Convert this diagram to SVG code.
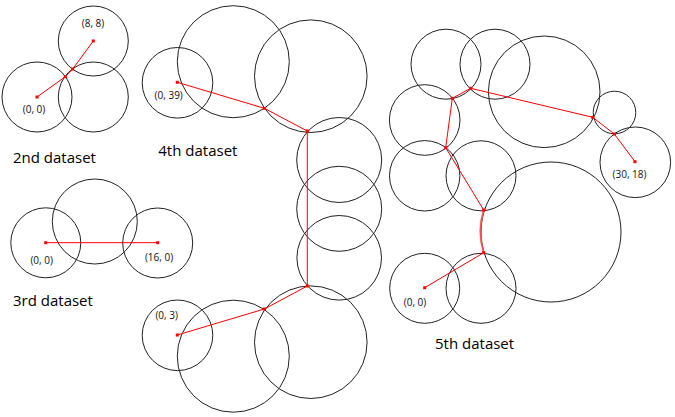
<svg xmlns="http://www.w3.org/2000/svg" width="675" height="417" viewBox="0 0 675 417">
<style>
.c{fill:none;stroke:#222;stroke-width:1}
.p{fill:none;stroke:#f00;stroke-width:1}
.d{fill:#f00}
.lbl{font-family:"Open Sans","Noto Sans",sans-serif;font-size:10px;fill:#111;text-anchor:middle}
.ttl{font-family:"Open Sans","Noto Sans",sans-serif;font-size:15px;fill:#000}
</style>
<rect width="675" height="417" fill="#fff"/>
<g id="dataset2">
<circle class="c" cx="37" cy="97" r="35"/>
<circle class="c" cx="93.3" cy="41" r="35"/>
<circle class="c" cx="93.3" cy="97" r="35"/>
<text class="lbl" x="93" y="26.5">(8, 8)</text>
<text class="lbl" x="34" y="113">(0, 0)</text>
<text class="ttl" x="13" y="162.5">2nd dataset</text>
</g>
<g id="dataset3">
<circle class="c" cx="45.8" cy="242.8" r="35"/>
<circle class="c" cx="94.8" cy="221.5" r="42.5"/>
<circle class="c" cx="157.7" cy="243" r="35"/>
<text class="lbl" x="41.7" y="264">(0, 0)</text>
<text class="lbl" x="159" y="260.5">(16, 0)</text>
<text class="ttl" x="13" y="306">3rd dataset</text>
</g>
<g id="dataset4">
<circle class="c" cx="177.5" cy="82.8" r="35.3"/>
<circle class="c" cx="233.3" cy="61.7" r="56"/>
<circle class="c" cx="310.8" cy="76.2" r="56.3"/>
<circle class="c" cx="339.2" cy="160" r="42.5"/>
<circle class="c" cx="339.2" cy="208.8" r="42.5"/>
<circle class="c" cx="339.2" cy="257.8" r="42.3"/>
<circle class="c" cx="310.8" cy="342.2" r="56.3"/>
<circle class="c" cx="233.3" cy="356.2" r="56"/>
<circle class="c" cx="177.5" cy="335.3" r="35.3"/>
<text class="lbl" x="168.7" y="98.5">(0, 39)</text>
<text class="lbl" x="166.7" y="318.5">(0, 3)</text>
<text class="ttl" x="158.3" y="155.5">4th dataset</text>
</g>
<g id="dataset5">
<circle class="c" cx="446" cy="64.2" r="35"/>
<circle class="c" cx="495" cy="64.2" r="35"/>
<circle class="c" cx="544.2" cy="91.8" r="55.8"/>
<circle class="c" cx="614.5" cy="112.5" r="21.3"/>
<circle class="c" cx="635.3" cy="162.3" r="35.3"/>
<circle class="c" cx="424.7" cy="120" r="35.3"/>
<circle class="c" cx="424.7" cy="175.8" r="35.2"/>
<circle class="c" cx="481" cy="175.8" r="35"/>
<circle class="c" cx="551" cy="232" r="70"/>
<circle class="c" cx="424.7" cy="288.3" r="35"/>
<circle class="c" cx="481" cy="288.3" r="35"/>
<text class="lbl" x="629.5" y="178">(30, 18)</text>
<text class="lbl" x="415" y="306">(0, 0)</text>
<text class="ttl" x="435" y="349">5th dataset</text>
</g>
<g id="connectors">
<polyline class="p" points="37,97 65.3,76.7 72.7,69 93.3,41"/>
<polyline class="p" points="45.7,242.7 157.7,242.7"/>
<polyline class="p" points="177.3,82.3 264.3,108.3 307.3,131 307.3,286 264.3,309 177.3,335"/>
<path class="p" d="M424.7,287.7 L483.7,252.7 A70,70 0 0 1 483.7,210 L445.7,147.7 L452.3,98.3 L470.7,88.3 L592.7,117.3 L614.3,134 L635,161.7"/>
<path d="M483.7,252.7 A70,70 0 0 1 483.7,210" fill="none" stroke="#f66" stroke-width="2" opacity="0.7"/>
<g class="d">
<rect x="35.5" y="95.5" width="3" height="3"/>
<rect x="63.8" y="75.2" width="3" height="3"/>
<rect x="71.2" y="67.5" width="3" height="3"/>
<rect x="91.8" y="39.5" width="3" height="3"/>
<rect x="44.2" y="241.2" width="3" height="3"/>
<rect x="156.2" y="241.2" width="3" height="3"/>
<rect x="175.8" y="80.8" width="3" height="3"/>
<rect x="262.8" y="106.8" width="3" height="3"/>
<rect x="305.8" y="129.5" width="3" height="3"/>
<rect x="305.8" y="284.5" width="3" height="3"/>
<rect x="262.8" y="307.5" width="3" height="3"/>
<rect x="175.8" y="333.5" width="3" height="3"/>
<rect x="423.2" y="286.2" width="3" height="3"/>
<rect x="482.2" y="251.2" width="3" height="3"/>
<rect x="482.2" y="208.5" width="3" height="3"/>
<rect x="444.2" y="146.2" width="3" height="3"/>
<rect x="450.8" y="96.8" width="3" height="3"/>
<rect x="469.2" y="86.8" width="3" height="3"/>
<rect x="591.2" y="115.8" width="3" height="3"/>
<rect x="612.8" y="132.5" width="3" height="3"/>
<rect x="633.5" y="160.2" width="3" height="3"/>
</g>
</g>
</svg>
